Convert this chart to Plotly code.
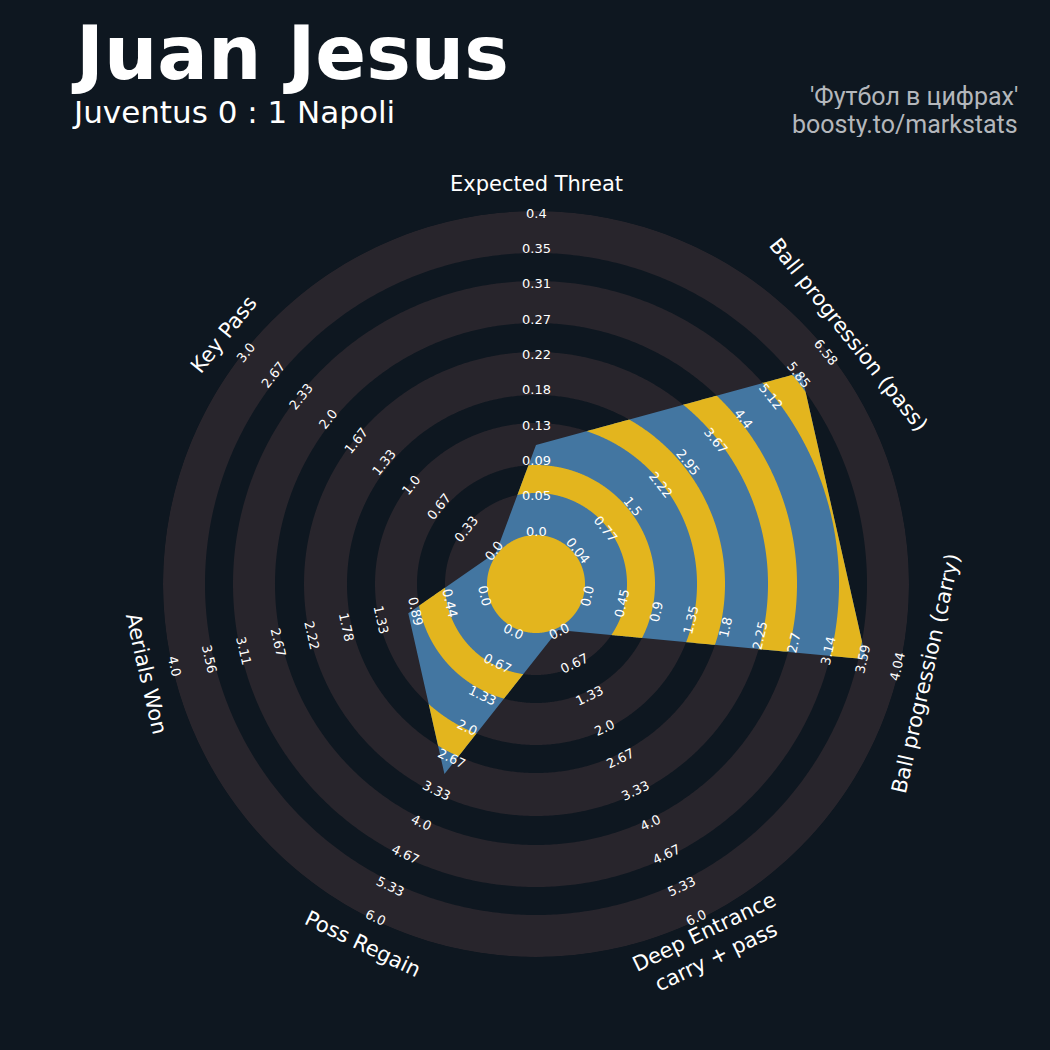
import numpy as np
import plotly.graph_objects as go

# radar data (clockwise from the top)
params = ["Expected Threat", "Ball progression (pass)", "Ball progression (carry)",
          "Deep Entrance<br>carry + pass", "Poss Regain", "Aerials Won", "Key Pass"]
values = [0.11, 5.93, 3.63, 0.0, 3.0, 1.0, 0.0]

# range labels on every spoke (inner -> outer)
xt_ticks = ["0.0", "0.05", "0.09", "0.13", "0.18", "0.22", "0.27", "0.31", "0.35", "0.4"]
pass_ticks = ["0.04", "0.77", "1.5", "2.22", "2.95", "3.67", "4.4", "5.12", "5.85", "6.58"]
carry_ticks = ["0.0", "0.45", "0.9", "1.35", "1.8", "2.25", "2.7", "3.14", "3.59", "4.04"]
deep_ticks = ["0.0", "0.67", "1.33", "2.0", "2.67", "3.33", "4.0", "4.67", "5.33", "6.0"]
regain_ticks = ["0.0", "0.67", "1.33", "2.0", "2.67", "3.33", "4.0", "4.67", "5.33", "6.0"]
aerial_ticks = ["0.0", "0.44", "0.89", "1.33", "1.78", "2.22", "2.67", "3.11", "3.56", "4.0"]
keypass_ticks = ["0.0", "0.33", "0.67", "1.0", "1.33", "1.67", "2.0", "2.33", "2.67", "3.0"]
ticks = [xt_ticks, pass_ticks, carry_ticks, deep_ticks, regain_ticks, aerial_ticks, keypass_ticks]

title = "Juan Jesus"
subtitle = "Juventus 0 : 1 Napoli"
credit = ["'Футбол в цифрах'", "boosty.to/markstats"]

BG = "#0e1720"
RING = "#28252c"
BLUE = "#4376a1"
YELLOW = "#e3b51e"

# layout (page pixels)
W = 1050
CX, CY, R = 536, 584, 373
R_IN, R_OUT = 51, 371          # radius of the min / max of each range
CENTER = 49
ring_edges = [49, 91, 119, 161, 189, 232, 261, 303, 331, 373]
gray_bands = list(zip(ring_edges[0::2], ring_edges[1::2]))
dark_bands = list(zip(ring_edges[1:-1:2], ring_edges[2::2]))
R_TXT = 440                    # half-size of the text overlay axes

n = len(params)
step = 360 / n
theta = [i * step for i in range(n)]
lo = [float(t[0]) for t in ticks]
hi = [float(t[-1]) for t in ticks]
r_vals = [R_IN + (v - a) / (b - a) * (R_OUT - R_IN) for v, a, b in zip(values, lo, hi)]

vx = np.array([r * np.sin(np.radians(t)) for r, t in zip(r_vals, theta)])
vy = np.array([r * np.cos(np.radians(t)) for r, t in zip(r_vals, theta)])


def rho(phi):
    # distance from centre to the radar polygon edge along direction phi
    i = int(phi // step) % n
    j = (i + 1) % n
    px, py = vx[i], vy[i]
    ex, ey = vx[j] - px, vy[j] - py
    dx, dy = np.sin(np.radians(phi)), np.cos(np.radians(phi))
    return (px * ey - py * ex) / (dx * ey - dy * ex)


phis = np.unique(np.concatenate([np.arange(0, 360, 0.25), theta, [360]]))
rhos = np.array([rho(p % 360) for p in phis])
circ = np.arange(0, 360.01, 0.5)

fig = go.Figure()


def annulus(a, b, color, outer=None, th=circ):
    if outer is None:
        outer = np.full(len(th), b)
    rr = np.concatenate([outer, np.full(len(th), a)])
    tt = np.concatenate([th, th[::-1]])
    fig.add_trace(go.Scatterpolar(r=rr, theta=tt, mode="lines", fill="toself",
                                  fillcolor=color, line=dict(width=0, color=color),
                                  hoverinfo="skip", showlegend=False))


for a, b in gray_bands:
    annulus(a, b, RING)

fig.add_trace(go.Scatterpolar(r=r_vals + [r_vals[0]], theta=theta + [360], mode="lines",
                              fill="toself", fillcolor=BLUE, line=dict(width=0, color=BLUE),
                              hoverinfo="skip", showlegend=False))

for a, b in dark_bands:
    annulus(a, b, YELLOW, outer=np.clip(rhos, a, b), th=phis)

annulus(0, CENTER, YELLOW)

annotations = []


def upright(t):
    if 90 < t < 270:
        return t - 180
    if t >= 270:
        return t - 360
    return t


for i, t in enumerate(theta):
    s, c = np.sin(np.radians(t)), np.cos(np.radians(t))
    for k, lab in enumerate(ticks[i]):
        rl = 53 + 35.3 * k
        annotations.append(dict(x=rl * s, y=rl * c, xref="x", yref="y", text=lab,
                                showarrow=False, textangle=upright(t),
                                font=dict(family="DejaVu Sans", size=13, color="white")))
    annotations.append(dict(x=400 * s, y=400 * c, xref="x", yref="y", text=params[i],
                            showarrow=False, textangle=upright(t),
                            font=dict(family="DejaVu Sans", size=21, color="white")))

annotations += [
    dict(x=69 / W, y=1 - 53 / W, xref="paper", yref="paper", text="<b>" + title + "</b>",
         showarrow=False, xanchor="left", yanchor="middle", height=82,
         font=dict(family="DejaVu Sans", size=75, color="white")),
    dict(x=70 / W, y=1 - 112 / W, xref="paper", yref="paper", text=subtitle,
         showarrow=False, xanchor="left", yanchor="middle", height=34,
         font=dict(family="DejaVu Sans", size=31, color="white")),
    dict(x=1020 / W, y=1 - 97 / W, xref="paper", yref="paper", text=credit[0],
         showarrow=False, xanchor="right", yanchor="middle", height=25,
         font=dict(family="Roboto", size=25, color="#b4b7bc")),
    dict(x=1020 / W, y=1 - 124 / W, xref="paper", yref="paper", text=credit[1],
         showarrow=False, xanchor="right", yanchor="middle", height=25,
         font=dict(family="Roboto", size=25, color="#b4b7bc")),
]

xdom = [(CX - R) / W, (CX + R) / W]
ydom = [(W - CY - R) / W, (W - CY + R) / W]

fig.update_layout(
    width=W, height=W, margin=dict(l=0, r=0, t=0, b=0),
    paper_bgcolor=BG, plot_bgcolor="rgba(0,0,0,0)",
    polar=dict(domain=dict(x=xdom, y=ydom), bgcolor="rgba(0,0,0,0)",
               radialaxis=dict(range=[0, R], visible=False),
               angularaxis=dict(visible=False, rotation=90, direction="clockwise")),
    xaxis=dict(domain=[(CX - R_TXT) / W, (CX + R_TXT) / W], range=[-R_TXT, R_TXT],
               visible=False, fixedrange=True),
    yaxis=dict(domain=[(W - CY - R_TXT) / W, (W - CY + R_TXT) / W], range=[-R_TXT, R_TXT],
               visible=False, fixedrange=True),
    annotations=annotations,
)

fig.write_html("out.html", config={"displayModeBar": False},
               post_script="document.body.style.margin='0';document.body.style.overflow='hidden';")
